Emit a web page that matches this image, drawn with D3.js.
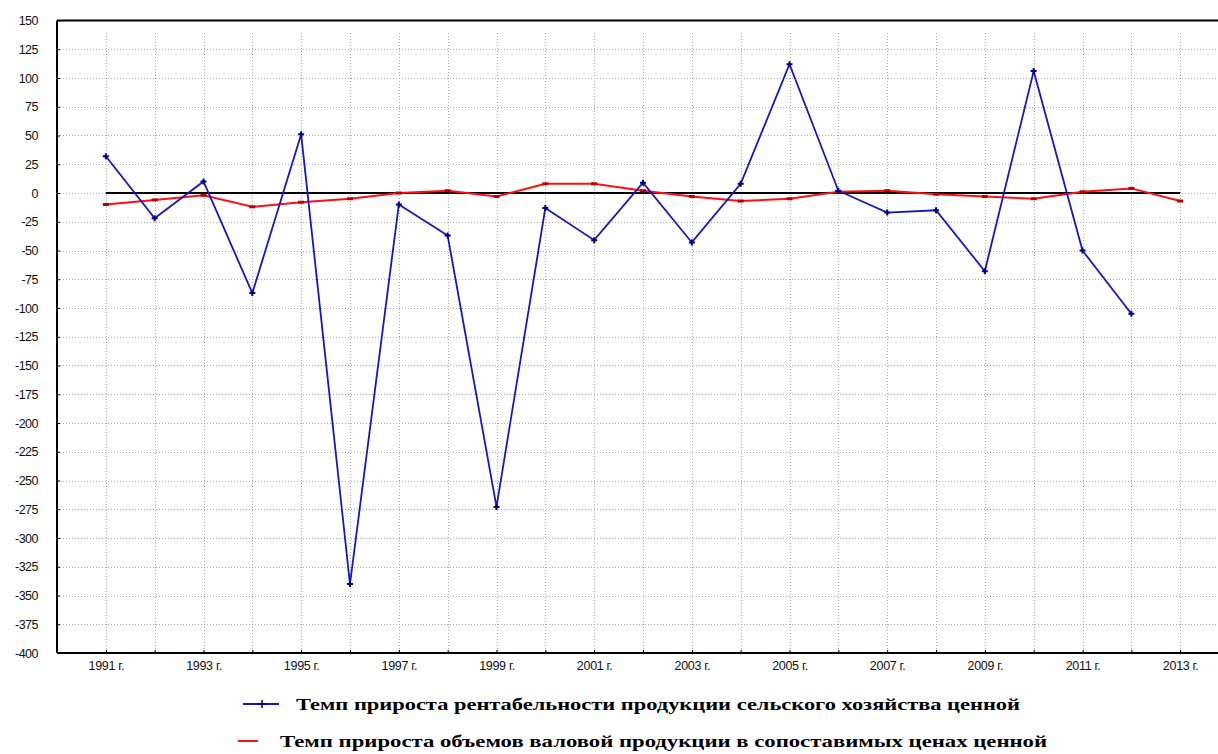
<!DOCTYPE html>
<html><head><meta charset="utf-8">
<script src="https://cdn.jsdelivr.net/npm/d3@7"></script>
<style>body{margin:0;background:#fff}svg{display:block}</style>
</head><body>
<svg id="c" width="1218" height="754"></svg>
<script>
const years = [1991,1992,1993,1994,1995,1996,1997,1998,1999,2000,2001,2002,2003,2004,2005,2006,2007,2008,2009,2010,2011,2012,2013];
const profitability = [32,-22,10,-87,51,-340,-10,-37,-273,-13,-41,9,-43,8,112,2,-17,-15,-68,106,-50,-105,null];
const outputGrowth = [-10,-6,-2,-12,-8,-5,0,2,-3,8,8,2,-3,-7,-5,1,2,-1,-3,-5,1,4,-7];
const yTicks = [150,125,100,75,50,25,0,-25,-50,-75,-100,-125,-150,-175,-200,-225,-250,-275,-300,-325,-350,-375,-400];
const xLabelYears = [1991,1993,1995,1997,1999,2001,2003,2005,2007,2009,2011,2013];
const legendLabels = ["Темп прироста рентабельности продукции сельского хозяйства ценной",
                      "Темп прироста объемов валовой продукции в сопоставимых ценах ценной"];

const svg = d3.select("#c");
const W = 1218;
const x = d3.scaleLinear().domain([1990, 2014]).range([57, 1229]);
const y = d3.scaleLinear().domain([-400, 150]).range([653, 20.5]);

// grid
const g = svg.append("g");
g.selectAll(".hg").data(yTicks.filter(v => v !== 150 && v !== -400)).enter().append("line")
  .attr("x1", x(1990)).attr("x2", W).attr("y1", d => Math.round(y(d)) + 0.5).attr("y2", d => Math.round(y(d)) + 0.5)
  .attr("stroke", "#aaaaaa").attr("stroke-width", 1).attr("stroke-dasharray", "1,2");
g.selectAll(".vg").data(years).enter().append("line")
  .attr("x1", d => Math.round(x(d)) + 0.5).attr("x2", d => Math.round(x(d)) + 0.5)
  .attr("y1", 33).attr("y2", y(-400))
  .attr("stroke", "#aaaaaa").attr("stroke-width", 1).attr("stroke-dasharray", "1,2");

// frame
svg.append("line").attr("x1", x(1990)).attr("x2", W).attr("y1", y(150)).attr("y2", y(150)).attr("stroke", "#000").attr("stroke-width", 2);
svg.append("line").attr("x1", x(1990)).attr("x2", W).attr("y1", y(-400)).attr("y2", y(-400)).attr("stroke", "#000").attr("stroke-width", 2);
svg.append("line").attr("x1", x(1990)).attr("x2", x(1990)).attr("y1", y(150)).attr("y2", y(-400)).attr("stroke", "#000").attr("stroke-width", 2);

// y axis
const yAxis = d3.axisLeft(y).tickValues(yTicks).tickSize(-3).tickPadding(19).tickFormat(d => String(d));
const ya = svg.append("g").attr("transform", `translate(${x(1990)},0)`).call(yAxis);
ya.select(".domain").remove();
ya.selectAll("text").attr("font-family", "Liberation Sans, Arial, sans-serif").attr("font-size", 12.5).attr("fill", "#111").attr("letter-spacing", "-0.5");
ya.selectAll("line").attr("stroke", "#000");

// x axis
const xAxis = d3.axisBottom(x).tickValues(years).tickSize(-3).tickPadding(8).tickFormat(d => xLabelYears.includes(d) ? d + " г." : "");
const xa = svg.append("g").attr("transform", `translate(0,${y(-400)})`).call(xAxis);
xa.select(".domain").remove();
xa.selectAll("text").attr("font-family", "Liberation Sans, Arial, sans-serif").attr("font-size", 12.5).attr("fill", "#111").attr("letter-spacing", "-0.3");
xa.selectAll("line").attr("stroke", "#000");

// zero line
svg.append("line").attr("x1", x(years[0])).attr("x2", x(years[years.length-1]))
  .attr("y1", y(0)).attr("y2", y(0)).attr("stroke", "#000").attr("stroke-width", 2);

// red series
const redData = years.map((yr, i) => ({yr, v: outputGrowth[i]}));
svg.append("path").datum(redData)
  .attr("d", d3.line().x(d => x(d.yr)).y(d => y(d.v)))
  .attr("fill", "none").attr("stroke", "#ff1010").attr("stroke-width", 2);
svg.selectAll(".rm").data(redData).enter().append("rect")
  .attr("x", d => x(d.yr) - 3).attr("y", d => y(d.v) - 1.5).attr("width", 6).attr("height", 3).attr("fill", "#c00000");

// blue series
const blueData = years.map((yr, i) => ({yr, v: profitability[i]})).filter(d => d.v !== null);
svg.append("path").datum(blueData)
  .attr("d", d3.line().x(d => x(d.yr)).y(d => y(d.v)))
  .attr("fill", "none").attr("stroke", "#1616c8").attr("stroke-width", 1.8);
const bm = svg.selectAll(".bm").data(blueData).enter().append("g")
  .attr("transform", d => `translate(${x(d.yr)},${y(d.v)})`);
bm.append("path").attr("d", "M-3,0H3M0,-3V3").attr("stroke", "#000080").attr("stroke-width", 2);

// legend
const lf = "Liberation Serif, Times New Roman, serif";
svg.append("line").attr("x1", 243).attr("x2", 279).attr("y1", 704).attr("y2", 704).attr("stroke", "#1616c8").attr("stroke-width", 1.8);
svg.append("path").attr("d", "M258,704H266M262,700V708").attr("stroke", "#000080").attr("stroke-width", 1.5);
svg.append("text").attr("x", 296).attr("y", 710).text(legendLabels[0])
  .attr("font-family", lf).attr("font-weight", "bold").attr("font-size", 16)
  .attr("textLength", 724).attr("lengthAdjust", "spacingAndGlyphs").attr("fill", "#000");
svg.append("line").attr("x1", 238).attr("x2", 258).attr("y1", 741).attr("y2", 741).attr("stroke", "#ff1010").attr("stroke-width", 2);
svg.append("text").attr("x", 280).attr("y", 747).text(legendLabels[1])
  .attr("font-family", lf).attr("font-weight", "bold").attr("font-size", 16)
  .attr("textLength", 767).attr("lengthAdjust", "spacingAndGlyphs").attr("fill", "#000");
</script>
</body></html>
